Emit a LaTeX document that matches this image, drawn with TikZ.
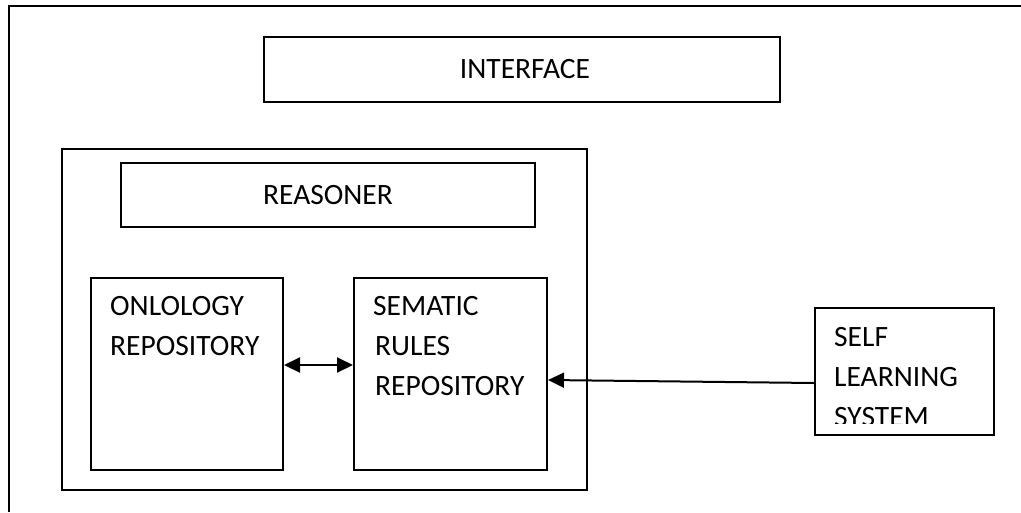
\documentclass[tikz,border=0pt]{standalone}
\usepackage{fontspec}
\setmainfont{Carlito}
\usetikzlibrary{arrows.meta}
\tikzset{
  box/.style={draw=black, line width=2pt, rectangle, inner sep=0pt, anchor=north west},
  lbl/.style={anchor=base west, inner sep=0pt, font=\fontsize{29.5}{40}\selectfont},
  clbl/.style={anchor=center, inner sep=0pt, font=\fontsize{29.5}{40}\selectfont},
  arr/.style={line width=2pt, -{Triangle[length=16pt,width=15pt]}},
  darr/.style={line width=2pt, {Triangle[length=16pt,width=15pt]}-{Triangle[length=16pt,width=15pt]}}
}
\begin{document}
\begin{tikzpicture}[x=1pt,y=-1pt]
\useasboundingbox (0,0) rectangle (1021,512);
% outer frame (only top and left edges are visible)
\draw[line width=2pt] (1021,6) -- (9,6) -- (9,512);
% interface
\node[box, minimum width=516pt, minimum height=65pt] (iface) at (263,36) {};
\node[clbl] (ifacet) at ([xshift=3pt]iface.center) {INTERFACE};
% reasoner container
\node[box, minimum width=525pt, minimum height=341pt] (cont) at (61,148) {};
\node[box, minimum width=414pt, minimum height=64pt] (reas) at (120,162) {};
\node[clbl] (reast) at (reas.center) {REASONER};
% ontology
\node[box, minimum width=192pt, minimum height=192pt] (ont) at (90,277) {};
\node[lbl] (ont1) at (110,315) {ONLOLOGY};
\node[lbl] (ont2) at (110,355) {REPOSITORY};
% semantic rules
\node[box, minimum width=193pt, minimum height=192pt] (sem) at (353,277) {};
\node[lbl] (sem1) at (373,315) {SEMATIC};
\node[lbl] (sem2) at (375,355) {RULES};
\node[lbl] (sem3) at (375,395) {REPOSITORY};
% self learning
\node[box, minimum width=179pt, minimum height=127pt] (sl) at (814,307) {};
\node[lbl] (sl1) at (834,346) {SELF};
\node[lbl] (sl2) at (834,386) {LEARNING};
\begin{scope}
\clip (814,300) rectangle (993,423);
\node[lbl] (sl3) at (834,426) {SYSTEM};
\end{scope}
% connectors
\draw[darr] ([yshift=9pt]ont.east) -- ([yshift=9pt]sem.west);
\draw[arr] ([yshift=-11.5pt]sl.west) -- ([yshift=-6pt]sem.east);
\end{tikzpicture}
\end{document}
